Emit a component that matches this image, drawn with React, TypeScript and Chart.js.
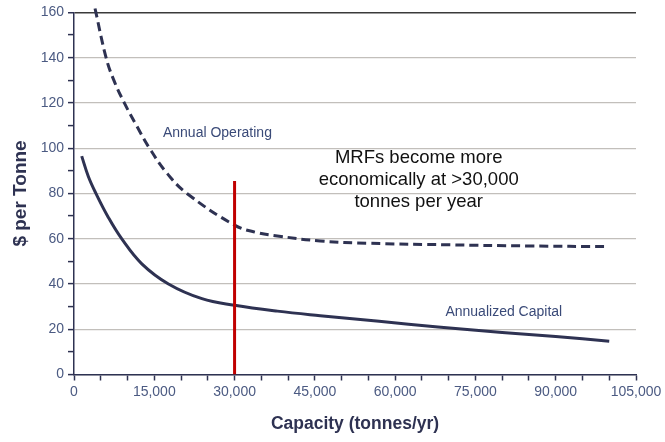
import React, { useEffect, useRef } from "react";
import { Chart, registerables } from "chart.js";

Chart.register(...registerables);

// Capacity (tonnes/yr) and $ per tonne
const capitalCapacity = [1440, 2680, 4100, 6420, 8900, 12670, 17650, 23900, 30000, 38000, 46000, 57000, 68000, 80000, 90000, 100000];
const capitalCost = [96.5, 87.5, 80, 69.4, 60, 48.9, 40, 33.5, 30.6, 28, 26, 23.5, 21, 18.6, 16.8, 14.7];

const operatingCapacity = [3930, 5990, 7360, 9400, 11730, 14100, 17350, 21100, 30000, 34000, 38000, 46000, 55000, 70000, 85000, 100000];
const operatingCost = [161.7, 140, 130.5, 120, 109.8, 100, 89, 80, 66, 62.8, 61.2, 59, 58, 57.3, 56.8, 56.5];

const thresholdCapacity = [30000, 30000];
const thresholdCost = [0, 85.5];

const xTickStep = 5000;
const xLabelStep = 15000;
const yTickStep = 10;
const yLabelStep = 20;

const operatingLabel = "Annual Operating";
const operatingLabelAt = [26800, 106.7];
const capitalLabel = "Annualized Capital";
const capitalLabelAt = [80300, 27.5];
const noteLines = ["MRFs become more", "economically at >30,000", "tonnes per year"];
const noteAt = [64400, [95.7, 85.8, 76.4]];

const NAVY = "#2e3252";
const TICK_TEXT = "#4b5a82";
const FONT = "'Liberation Sans', Arial, sans-serif";

const toPoints = (xs: number[], ys: number[]) => xs.map((x, i) => ({ x, y: ys[i] }));

const annotations = {
  id: "annotations",
  afterDatasetsDraw(chart: any) {
    const { ctx, scales } = chart;
    const xs = scales.x;
    const ys = scales.y;
    ctx.save();
    ctx.textAlign = "center";
    ctx.textBaseline = "middle";
    ctx.fillStyle = "#3a4a78";
    ctx.font = `14px ${FONT}`;
    ctx.fillText(operatingLabel, xs.getPixelForValue(operatingLabelAt[0]), ys.getPixelForValue(operatingLabelAt[1]));
    ctx.fillText(capitalLabel, xs.getPixelForValue(capitalLabelAt[0]), ys.getPixelForValue(capitalLabelAt[1]));
    ctx.fillStyle = "#111111";
    ctx.font = `18.5px ${FONT}`;
    const nx = xs.getPixelForValue(noteAt[0] as number);
    (noteAt[1] as number[]).forEach((v, i) => {
      ctx.fillText(noteLines[i], nx, ys.getPixelForValue(v));
    });
    ctx.restore();
  },
};

export default function App() {
  const ref = useRef<HTMLCanvasElement>(null);
  useEffect(() => {
    if (!ref.current) return;
    const chart = new Chart(ref.current, {
      type: "line",
      data: {
        datasets: [
          {
            data: toPoints(thresholdCapacity, thresholdCost),
            borderColor: "#c00000",
            borderWidth: 3,
            pointRadius: 0,
            order: 0,
          },
          {
            data: toPoints(capitalCapacity, capitalCost),
            borderColor: NAVY,
            borderWidth: 3,
            pointRadius: 0,
            tension: 0.4,
            order: 1,
          },
          {
            data: toPoints(operatingCapacity, operatingCost),
            borderColor: NAVY,
            borderWidth: 3,
            borderDash: [9, 5],
            pointRadius: 0,
            tension: 0.4,
            clip: false as any,
            order: 1,
          },
        ],
      },
      options: {
        animation: false,
        responsive: false,
        devicePixelRatio: 1,
        layout: { padding: { left: 0, top: 10.5, right: 29, bottom: 0 } },
        plugins: { legend: { display: false }, tooltip: { enabled: false } },
        scales: {
          x: {
            type: "linear",
            min: 0,
            max: 105000,
            afterFit: (s: any) => {
              s.height = 67.5;
            },
            ticks: {
              stepSize: xTickStep,
              autoSkip: false,
              maxRotation: 0,
              color: TICK_TEXT,
              font: { family: FONT, size: 14 },
              padding: 3,
              callback: (v: any) => (Number(v) % xLabelStep === 0 ? Number(v).toLocaleString("en-US") : ""),
            },
            grid: {
              drawOnChartArea: false,
              drawTicks: true,
              tickLength: 6,
              tickColor: NAVY,
              tickWidth: 1.5,
            },
            border: { color: NAVY, width: 1.5 },
            title: {
              display: true,
              text: "Capacity (tonnes/yr)",
              color: NAVY,
              font: { family: FONT, size: 17.5, weight: "bold" },
              padding: { top: 0, bottom: 7 },
            },
          },
          y: {
            type: "linear",
            min: 0,
            max: 160,
            afterFit: (s: any) => {
              s.width = 74;
            },
            ticks: {
              stepSize: yTickStep,
              autoSkip: false,
              color: TICK_TEXT,
              font: { family: FONT, size: 14 },
              padding: 4,
              callback: (v: any) => (Number(v) % yLabelStep === 0 ? String(v) : ""),
            },
            grid: {
              drawTicks: true,
              tickLength: 6,
              tickColor: NAVY,
              tickWidth: 1.5,
              lineWidth: (c: any) => (c.tick && c.tick.value === 160 ? 1.5 : 1.2),
              color: (c: any) => {
                const v = c.tick ? c.tick.value : 0;
                if (v === 160) return "#3a3a3a";
                return v % yLabelStep === 0 ? "#c2bfbb" : "rgba(0,0,0,0)";
              },
            },
            border: { color: NAVY, width: 1.5 },
            title: {
              display: true,
              text: "$ per Tonne",
              color: NAVY,
              font: { family: FONT, size: 19, weight: "bold" },
              padding: { top: 9, bottom: 0 },
            },
          },
        },
      },
      plugins: [annotations],
    });
    return () => chart.destroy();
  }, []);
  return (
    <div style={{ position: "absolute", left: 0, top: 0, width: 665, height: 442, background: "#fff" }}>
      <canvas ref={ref} width={665} height={442} style={{ width: 665, height: 442 }} />
    </div>
  );
}
